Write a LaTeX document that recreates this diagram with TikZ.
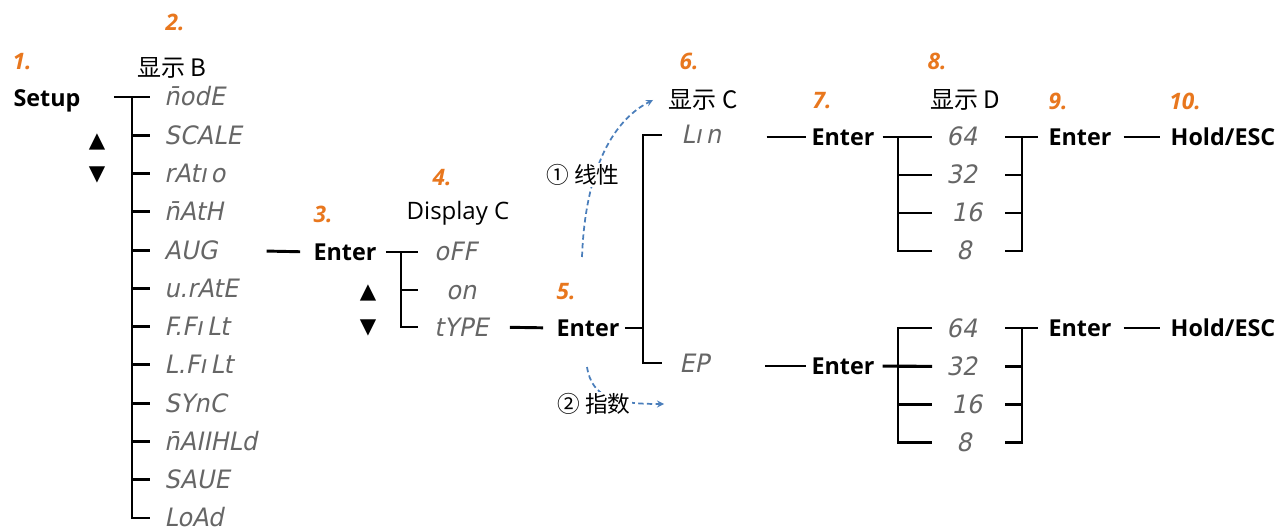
\documentclass[tikz,border=0pt]{standalone}
\usepackage{fontspec}
\setmainfont{Open Sans}
\newfontfamily\cjk{Noto Sans CJK SC}
\newfontfamily\segfont[FakeSlant=0.2,FakeStretch=0.95]{DejaVu Sans}
\newfontfamily\symfont{DejaVu Sans}
\usetikzlibrary{positioning}
\definecolor{steporange}{HTML}{E8771E}
\definecolor{segray}{HTML}{666666}
\definecolor{arrowblue}{HTML}{4A7EBB}

\begin{document}
\begin{tikzpicture}[x=0.75pt,y=-0.75pt,line width=2.2pt,
    key node/.style={font=\fontsize{17.5}{20}\selectfont\bfseries,inner sep=0pt,text height=12.5pt,text depth=0pt},
    head node/.style={font=\cjk\fontsize{18}{21}\selectfont,inner sep=0pt},
    seg node/.style={font=\segfont\fontsize{19}{22}\selectfont,text=segray,inner sep=0pt,text height=13.5pt,text depth=0pt,anchor=west},
    num node/.style={font=\fontsize{17}{20}\selectfont\bfseries\itshape,text=steporange,inner sep=0pt},
    sym node/.style={font=\symfont\fontsize{16}{19}\selectfont,inner sep=0pt},
    tag node/.style={font=\cjk\fontsize{17}{20}\selectfont,fill=white,inner sep=1pt},
    flow/.style={arrowblue,line width=1.3pt,dash pattern=on 4pt off 2.5pt,-stealth}]

  \useasboundingbox (0,0) rectangle (1286,531);

  % step numbers
  \node[num node] (n1) at (22,62) {1.};
  \node[num node] (n2) at (175,22) {2.};
  \node[num node] (n3) at (323,214) {3.};
  \node[num node] (n4) at (442,178) {4.};
  \node[num node] (n5) at (566,292) {5.};
  \node[num node] (n6) at (689,61) {6.};
  \node[num node] (n7) at (822,101) {7.};
  \node[num node] (n8) at (937,61) {8.};
  \node[num node] (n9) at (1058,101) {9.};
  \node[num node] (n10) at (1185,101) {10.};

  % headings
  \node[head node] (hb) at (172,68) {显示 B};
  \node[head node,font=\fontsize{18}{21}\selectfont] (hc) at (458,213) {Display C};
  \node[head node] (hc2) at (703,100) {显示 C};
  \node[head node] (hd) at (965,100) {显示 D};

  % display B
  \coordinate (bsp) at (132,0);
  \coordinate (btk) at (150,0);
  \node[key node] (setup) at (47,98) {Setup};
  \foreach \t [count=\i] in {\={n}odE,SCALE,rAtı\,o,\={n}AtH,AUG,u.rAtE,F.Fı\,Lt,L.Fı\,Lt,SYnC,\={n}AIIHLd,SAUE,LoAd}
    \node[seg node] (b\i) at (163,{97+38.27*(\i-1)}) {\t};
  \node[sym node] (up1) at (97,142) {▲};
  \node[sym node] (dn1) at (97,175) {▼};

  \draw[shorten <=24pt] (b1 -| setup.east) -- (b1 -| btk);
  \draw (b1 -| bsp) |- (b12 -| btk);
  \foreach \i in {2,...,11}
    \draw (b\i -| bsp) -- (b\i -| btk);

  % display C
  \coordinate (csp) at (401,0);
  \coordinate (ctk) at (418,0);
  \node[key node] (e3) at (345,252) {Enter};
  \node[seg node] (c1) at (433,252) {oFF};
  \node[seg node] (c2) at (445,290) {on};
  \node[seg node] (c3) at (433,327) {tYPE};
  \node[sym node] (up2) at (368,293) {▲};
  \node[sym node] (dn2) at (368,328) {▼};

  \draw[shorten <=36pt,shorten >=9pt] (b5.east) -- (e3.west);
  \draw[shorten <=6pt] (e3.east) -- (c1 -| ctk);
  \draw (c1 -| csp) |- (c3 -| ctk);
  \draw (c2 -| csp) -- (c2 -| ctk);

  % type
  \coordinate (dsp) at (643,0);
  \coordinate (dtk) at (662,0);
  \node[key node] (e5) at (588,328) {Enter};
  \node[seg node] (d1) at (680,135) {Lı\,n};
  \node[seg node] (d2) at (678,363) {EP};

  \draw[shorten <=15pt,shorten >=9pt] (c3.east) -- (e5.west);
  \draw[shorten <=3pt] (e5.east) -- (e5 -| dsp);
  \draw (d1 -| dtk) -- (d1 -| dsp) -- (d2 -| dsp) -- (d2 -| dtk);

  % display D
  \coordinate (esp) at (898,0);
  \coordinate (etk) at (932,0);
  \coordinate (ftk) at (1005,0);
  \coordinate (fsp) at (1022,0);
  \node[key node] (e7) at (843,137) {Enter};
  \node[key node] (e7b) at (843,366) {Enter};
  \foreach \t/\x [count=\i] in {64/945,32/945,16/950,8/955} {
    \node[seg node] (g\i) at (\x,{137+38*(\i-1)}) {\t};
    \node[seg node] (k\i) at (\x,{328+38.3*(\i-1)}) {\t};
  }
  \node[key node] (e9) at (1080,137) {Enter};
  \node[key node] (h9) at (1223,137) {Hold/ESC};
  \node[key node] (e9b) at (1080,328) {Enter};
  \node[key node] (h9b) at (1223,328) {Hold/ESC};

  \draw[shorten <=33pt,shorten >=3pt] (e7 -| d1.east) -- (e7.west);
  \draw[shorten <=41pt,shorten >=3pt] (e7b -| d2.east) -- (e7b.west);

  \draw[shorten <=5pt] (e7.east) -- (g1 -| etk);
  \draw (g1 -| esp) |- (g4 -| etk);
  \draw[shorten <=5pt] (e7b.east) -- (k2 -| etk);
  \draw (k1 -| etk) -| (k4 -| esp) -- (k4 -| etk);
  \foreach \i in {2,3} {
    \draw (g\i -| esp) -- (g\i -| etk);
    \draw (k\i -| esp) -- (k\i -| etk);
  }
  \draw (g1 -| ftk) -| (g4 -| fsp) -- (g4 -| ftk);
  \draw (k1 -| ftk) -| (k4 -| fsp) -- (k4 -| ftk);
  \foreach \i in {2,3} {
    \draw (g\i -| ftk) -- (g\i -| fsp);
    \draw (k\i -| ftk) -- (k\i -| fsp);
  }
  \draw[shorten >=7pt] (g1 -| fsp) -- (e9.west);
  \draw[shorten >=7pt] (k1 -| fsp) -- (e9b.west);
  \draw[shorten <=8pt,shorten >=7pt] (e9.east) -- (h9.west);
  \draw[shorten <=8pt,shorten >=7pt] (e9b.east) -- (h9b.west);

  % linear / exponential
  \coordinate (linS) at (582,257);
  \coordinate (linE) at (653,100);
  \draw[flow] (linS) .. controls (585,175) and (610,122) .. (linE);
  \node[tag node] (lintag) at (583,175) {① 线性};
  \coordinate (expS) at (587,367);
  \coordinate (expE) at (664,404);
  \draw[flow] (expS) .. controls (592,398) and (615,404) .. (expE);
  \node[tag node] (exptag) at (594,404) {② 指数};

\end{tikzpicture}
\end{document}
